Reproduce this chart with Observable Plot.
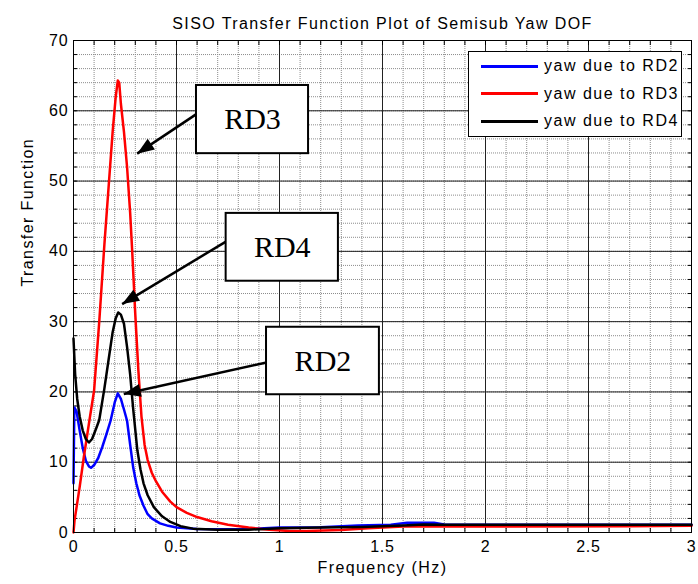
<!DOCTYPE html>
<html>
<head>
<meta charset="utf-8">
<script src="https://cdn.jsdelivr.net/npm/d3@7"></script>
<script src="https://cdn.jsdelivr.net/npm/@observablehq/plot@0.6"></script>
<style>
  html, body { margin: 0; padding: 0; background: #fff; }
  #wrap { position: relative; width: 698px; height: 584px; }
  #wrap svg text { letter-spacing: 1.4px; }
  #wrap svg g[aria-label="x-axis tick label"] text,
  #wrap svg g[aria-label="y-axis tick label"] text { letter-spacing: 0.8px; }
  #wrap svg g[font-family="Liberation Serif"] text { letter-spacing: 0; }
  #legend {
    position: absolute; left: 468px; top: 51px; width: 214px; height: 86px;
    border: 1px solid #000; background: #fff; box-sizing: border-box;
    font-family: "Liberation Sans", Arial, sans-serif; font-size: 16px; letter-spacing: 1.5px;
  }
  .row { position: absolute; left: 0; height: 20px; display: flex; align-items: center; }
  .sw { width: 57px; height: 3px; margin-left: 12px; margin-right: 6px; }
</style>
</head>
<body>
<div id="wrap"></div>
<script>
// ---- data ----
const freqRD2 = [0, 0.004, 0.015, 0.03, 0.045, 0.06, 0.075, 0.085, 0.1, 0.12, 0.14, 0.16, 0.18, 0.2, 0.215, 0.23, 0.245, 0.26, 0.275, 0.29, 0.305, 0.32, 0.34, 0.36, 0.38, 0.42, 0.46, 0.5, 0.6, 0.8, 1.0, 1.2, 1.38, 1.54, 1.62, 1.75, 1.8, 2.2, 2.6, 3.0];
const yawRD2  = [7, 17.8, 17.2, 14.5, 12, 10.2, 9.4, 9.2, 9.6, 10.6, 12.2, 14, 15.9, 18.5, 19.8, 19, 17.5, 15.9, 12.5, 9.2, 7, 5.3, 3.8, 2.6, 2.0, 1.3, 0.95, 0.7, 0.5, 0.45, 0.7, 0.75, 1.0, 1.1, 1.4, 1.4, 1.15, 1.1, 1.1, 1.1];

const freqRD3 = [0, 0.005, 0.03, 0.05, 0.075, 0.1, 0.125, 0.15, 0.17, 0.19, 0.205, 0.215, 0.222, 0.23, 0.245, 0.26, 0.275, 0.285, 0.3, 0.315, 0.33, 0.345, 0.36, 0.38, 0.4, 0.43, 0.47, 0.5, 0.55, 0.6, 0.67, 0.75, 0.85, 0.95, 1.05, 1.13, 1.3, 1.43, 1.6, 2.0, 2.69, 3.0];
const yawRD3  = [0, 1.7, 6.5, 10.7, 15.5, 20.2, 30, 41, 49, 57, 62, 64.3, 64, 61, 57, 52, 45.5, 40, 31, 23, 16.5, 12.5, 10.3, 8.5, 7.3, 5.8, 4.4, 3.6, 2.8, 2.2, 1.6, 1.1, 0.7, 0.4, 0.2, 0.2, 0.35, 0.6, 0.85, 0.85, 0.9, 0.95];

const freqRD4 = [0, 0.008, 0.018, 0.03, 0.045, 0.06, 0.075, 0.09, 0.11, 0.125, 0.15, 0.17, 0.19, 0.205, 0.217, 0.23, 0.245, 0.26, 0.275, 0.29, 0.31, 0.325, 0.34, 0.36, 0.39, 0.43, 0.47, 0.52, 0.58, 0.7, 0.85, 1.0, 1.2, 1.4, 1.6, 1.7, 1.8, 2.2, 2.6, 3.0];
const yawRD4  = [27.6, 22.5, 19, 16.5, 14.5, 13.3, 12.8, 13.3, 14.8, 16, 20.5, 24.5, 28.5, 30.5, 31.3, 31, 29.7, 26.4, 22.5, 17.5, 11.7, 9, 7, 5.3, 3.6, 2.3, 1.5, 0.9, 0.55, 0.4, 0.4, 0.6, 0.7, 0.8, 1.0, 1.15, 1.1, 1.1, 1.1, 1.1];

const seriesNames  = ["yaw due to RD2", "yaw due to RD3", "yaw due to RD4"];
const seriesColors = ["#0000ff", "#ff0000", "#000000"];

const xTicks = [0, 0.5, 1, 1.5, 2, 2.5, 3];
const xTickLabels = ["0", "0.5", "1", "1.5", "2", "2.5", "3"];
const yTicks = [0, 10, 20, 30, 40, 50, 60, 70];
const xMinor = d3.range(0, 3.0001, 0.1).map(d => +d.toFixed(2));
const yMinor = d3.range(0, 70.0001, 2);

// annotations (data units)
const annLabels = ["RD3", "RD4", "RD2"];
const annBoxX1 = [0.597, 0.741, 0.937];
const annBoxX2 = [1.141, 1.286, 1.485];
const annBoxY1 = [53.9, 35.75, 19.6];
const annBoxY2 = [63.6, 45.4, 29.2];
const annArrowFromX = [0.600, 0.746, 0.937];
const annArrowFromY = [59.6, 41.5, 24.2];
const annArrowToX = [0.309, 0.236, 0.244];
const annArrowToY = [53.9, 32.5, 19.7];

// ---- build tables ----
const lines = [
  freqRD2.map((f, i) => ({f, v: yawRD2[i], s: seriesNames[0]})),
  freqRD3.map((f, i) => ({f, v: yawRD3[i], s: seriesNames[1]})),
  freqRD4.map((f, i) => ({f, v: yawRD4[i], s: seriesNames[2]}))
];
const boxes = annLabels.map((t, i) => ({t, x1: annBoxX1[i], x2: annBoxX2[i], y1: annBoxY1[i], y2: annBoxY2[i],
  cx: (annBoxX1[i] + annBoxX2[i]) / 2, cy: (annBoxY1[i] + annBoxY2[i]) / 2}));
const arrows = annLabels.map((t, i) => ({x1: annArrowFromX[i], y1: annArrowFromY[i], x2: annArrowToX[i], y2: annArrowToY[i]}));

const sans = "Liberation Sans, Arial, sans-serif";

function filledHead(index, scales, values, dimensions, context, next) {
  const g = next(index, scales, values, dimensions, context);
  const {x1: X1, y1: Y1, x2: X2, y2: Y2} = values;
  const hl = 17, hw = 6.5;
  for (const i of index) {
    const dx = X2[i] - X1[i], dy = Y2[i] - Y1[i], L = Math.hypot(dx, dy);
    const ux = dx / L, uy = dy / L;
    const bx = X2[i] - ux * hl, by = Y2[i] - uy * hl;
    const pts = [[X2[i], Y2[i]], [bx - uy * hw, by + ux * hw], [bx + uy * hw, by - ux * hw]];
    const p = document.createElementNS("http://www.w3.org/2000/svg", "polygon");
    p.setAttribute("points", pts.map(q => q.join(",")).join(" "));
    p.setAttribute("fill", "#000");
    p.setAttribute("stroke", "none");
    g.appendChild(p);
  }
  return g;
}

const chart = Plot.plot({
  width: 698,
  height: 584,
  marginLeft: 73,
  marginRight: 7,
  marginTop: 40,
  marginBottom: 52,
  style: {fontFamily: sans, fontSize: "16px", color: "#000", background: "#fff"},
  x: {domain: [0, 3], ticks: xTicks},
  y: {domain: [0, 70], ticks: yTicks},
  marks: [
    // minor grid
    Plot.ruleX(xMinor, {x: d => d, stroke: "#8c8c8c", strokeWidth: 1, strokeDasharray: "1,1"}),
    Plot.ruleY(yMinor, {y: d => d, stroke: "#8c8c8c", strokeWidth: 1, strokeDasharray: "1,1"}),
    // major grid
    Plot.ruleX(xTicks, {x: d => d, stroke: "#222", strokeWidth: 1}),
    Plot.ruleY(yTicks, {y: d => d, stroke: "#222", strokeWidth: 1}),
    // inward ticks
    Plot.axisX({anchor: "bottom", ticks: xMinor, tickSize: -4, tickFormat: () => "", label: null}),
    Plot.axisX({anchor: "top", ticks: xMinor, tickSize: -4, tickFormat: () => "", label: null}),
    Plot.axisY({anchor: "left", ticks: yMinor, tickSize: -4, tickFormat: () => "", label: null}),
    Plot.axisY({anchor: "right", ticks: yMinor, tickSize: -4, tickFormat: () => "", label: null}),
    // tick labels
    Plot.axisX({anchor: "bottom", ticks: xTicks, tickSize: 0, tickPadding: 8, tickFormat: (d, i) => xTickLabels[i], label: null, fontSize: 16}),
    Plot.axisY({anchor: "left", ticks: yTicks, tickSize: 0, tickPadding: 5, label: null, fontSize: 16}),
    // series
    ...lines.map((data, k) => Plot.line(data, {x: "f", y: "v", stroke: seriesColors[k], strokeWidth: 2.5})),
    // annotations
    Plot.link(arrows, {x1: "x1", y1: "y1", x2: "x2", y2: "y2", stroke: "#000", strokeWidth: 2.5, render: filledHead}),
    Plot.rect(boxes, {x1: "x1", x2: "x2", y1: "y1", y2: "y2", fill: "#fff", stroke: "#000", strokeWidth: 2}),
    Plot.text(boxes, {x: "cx", y: "cy", text: "t", fontFamily: "Liberation Serif", fontSize: 30, fill: "#000"}),
    // frame
    Plot.frame({stroke: "#000", strokeWidth: 1}),
    // titles
    Plot.text(["SISO Transfer Function Plot of Semisub Yaw DOF"], {frameAnchor: "top", dy: -23, fontSize: 16, fill: "#000"}),
    Plot.text(["Frequency (Hz)"], {frameAnchor: "bottom", dy: 40, fontSize: 16, fill: "#000"}),
    Plot.text(["Transfer Function"], {frameAnchor: "left", dx: -46, rotate: -90, fontSize: 16, fill: "#000"})
  ]
});

const wrap = document.getElementById("wrap");
wrap.appendChild(chart);

// legend
const legend = document.createElement("div");
legend.id = "legend";
const rowTops = [4, 31.7, 59];
seriesNames.forEach((name, i) => {
  const row = document.createElement("div");
  row.className = "row";
  row.style.top = rowTops[i] + "px";
  const sw = document.createElement("div");
  sw.className = "sw";
  sw.style.background = seriesColors[i];
  const tx = document.createElement("span");
  tx.textContent = name;
  row.appendChild(sw);
  row.appendChild(tx);
  legend.appendChild(row);
});
wrap.appendChild(legend);
</script>
</body>
</html>
